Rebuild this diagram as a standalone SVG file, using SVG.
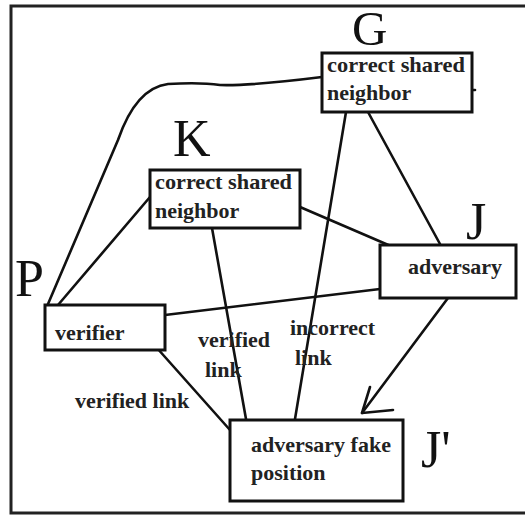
<svg xmlns="http://www.w3.org/2000/svg" width="525" height="516" viewBox="0 0 525 516">
<style>
.box{fill:#fff;stroke:#111;stroke-width:3}
.ln{fill:none;stroke:#111;stroke-width:2.6;stroke-linecap:round;stroke-linejoin:round}
.t{font-family:"Liberation Serif","Times New Roman",serif;font-weight:bold;font-size:22px;fill:#222}
.big{font-family:"Liberation Serif","Times New Roman",serif;font-size:52px;fill:#111}
</style>
<rect width="525" height="516" fill="#fff"/>
<path d="M525,6 L11,6 L11,513 L525,513" fill="none" stroke="#222" stroke-width="3"/>
<g id="connectors">
<path class="ln" d="M48,304 L118,140 Q136,88 168,84 Q200,82 220,85 Q250,86 322,77"/>
<line class="ln" x1="58" y1="305" x2="150" y2="197"/>
<line class="ln" x1="300" y1="207" x2="393" y2="247"/>
<line class="ln" x1="368" y1="112" x2="440" y2="244"/>
<line class="ln" x1="346" y1="112" x2="295" y2="419"/>
<line class="ln" x1="212" y1="228" x2="246" y2="419"/>
<line class="ln" x1="165" y1="315" x2="380" y2="289"/>
<line class="ln" x1="157" y1="348" x2="230" y2="430"/>
<line class="ln" x1="448" y1="298" x2="362" y2="413"/>
<polyline class="ln" points="370,387 362,413 393,410"/>
<line class="ln" x1="472" y1="90" x2="475" y2="90"/>
</g>
<g id="G">
<rect class="box" x="322" y="53" width="150" height="59"/>
<text class="big" x="352" y="45" style="font-size:49px">G</text>
<text class="t" x="327" y="72" textLength="138" lengthAdjust="spacingAndGlyphs">correct shared</text>
<text class="t" x="327" y="100">neighbor</text>
</g>
<g id="K">
<rect class="box" x="150" y="170" width="150" height="58"/>
<text class="big" x="173" y="156">K</text>
<text class="t" x="155" y="189" textLength="137" lengthAdjust="spacingAndGlyphs">correct shared</text>
<text class="t" x="155" y="218">neighbor</text>
</g>
<g id="J">
<rect class="box" x="380" y="245" width="136" height="53"/>
<text class="big" x="466" y="239">J</text>
<text class="t" x="408" y="274">adversary</text>
</g>
<g id="P">
<rect class="box" x="45" y="305" width="120" height="45"/>
<text class="big" x="15" y="296">P</text>
<text class="t" x="55" y="340">verifier</text>
</g>
<g id="Jprime">
<rect class="box" x="230" y="420" width="173" height="81"/>
<text class="big" x="421" y="467">J'</text>
<text class="t" x="251" y="452">adversary fake</text>
<text class="t" x="251" y="480">position</text>
</g>
<g id="labels">
<text class="t" x="75" y="408">verified link</text>
<text class="t" x="198" y="347">verified</text>
<text class="t" x="205" y="377">link</text>
<text class="t" x="290" y="335">incorrect</text>
<text class="t" x="295" y="365">link</text>
</g>
</svg>
